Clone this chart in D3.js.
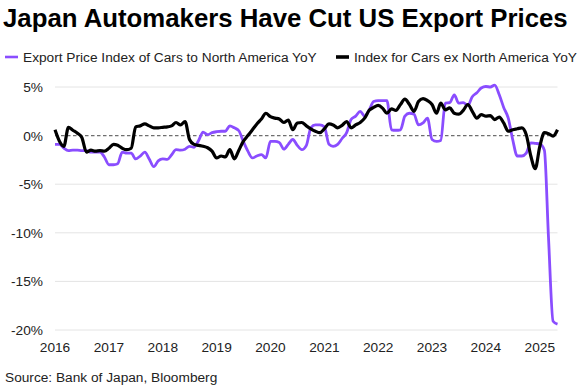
<!DOCTYPE html>
<html>
<head>
<meta charset="utf-8">
<script src="https://cdn.jsdelivr.net/npm/d3@7"></script>
<style>
  body { margin: 0; background: #fff; }
  svg { font-family: "Liberation Sans", Arial, sans-serif; }
</style>
</head>
<body>
<div id="chart"></div>
<script>
// Monthly data, Jan 2016 .. May 2025 (YoY %)
const startYear = 2016;
const northAmerica = [
  -0.9, -0.9, -1.3, -1.55, -1.5, -1.5, -1.55, -1.55, -1.7, -1.7, -1.7, -2.2,
  -3.0, -3.0, -2.9, -1.7, -1.8, -1.8, -2.4, -2.1, -1.7, -2.4, -3.2, -2.6,
  -2.4, -2.45, -2.0, -1.45, -1.5, -1.4, -1.1, -1.2, -0.5, 0.35, 0.1, 0.3,
  0.4, 0.45, 0.45, 1.0, 0.8, 0.5, -0.6, -1.6, -2.3, -2.1, -1.95, -2.3,
  -0.6, -0.6, -0.7, -1.4, -0.9, -0.4, -1.0, -1.45, -1.0, 0.8, 1.1, 1.1,
  0.9, -0.9, -1.1, -0.9, -0.3, 0.3, 1.65, 2.0, 2.5, 2.0, 2.65, 3.5,
  3.6, 3.6, 3.6, 0.6, 0.55, 0.6, 2.0, 2.3, 2.2, 1.1, 1.3, 1.8,
  -0.4, -0.6, -0.5, 3.35, 3.4, 4.2, 3.35, 3.4, 3.1, 4.0, 4.4, 4.9,
  5.05, 5.0, 5.2, 4.2, 2.9, 1.8, -0.4, -2.1, -2.1, -1.8, -0.75, -0.8,
  -0.85, -1.5, -10.5, -19.1, -19.4
];
const exNorthAmerica = [
  0.6, -0.6, -1.1, 0.85, 0.55, 0.25, -0.2, -1.7, -1.5, -1.6, -1.55, -1.6,
  -1.3, -0.9, -1.0, -1.3, -1.45, -1.3, 0.9, 1.0, 1.2, 1.0, 0.8, 0.8,
  0.85, 0.9, 1.0, 1.35, 1.1, 1.45, -0.4, -0.9, -1.0, -1.1, -1.25, -1.6,
  -2.3, -2.1, -2.2, -1.45, -2.4, -1.5, -0.6, 0.0, 0.6, 1.2, 1.7, 2.3,
  1.95, 1.8, 1.7, 1.35, 1.6, 0.6, 1.3, 1.35, 1.0, 0.7, 0.45, 0.3,
  0.7, 1.2, 1.1, 0.8, 1.05, 1.45, 0.8, 1.1, 1.35, 1.8, 2.6, 2.9,
  3.1, 2.8, 2.3, 2.75, 2.6, 3.2, 3.75, 3.2, 2.5, 3.5, 3.8, 3.6,
  3.2, 2.3, 3.35, 2.65, 2.85, 2.3, 2.2, 2.6, 3.2, 2.5, 1.8, 2.15,
  2.0, 2.05, 1.65, 1.9, 1.3, 0.45, 0.6, 0.7, 0.8, 0.1, -2.1, -3.4,
  -1.1, 0.3, 0.2, -0.05, 0.6
];
const seriesNames = ["Export Price Index of Cars to North America YoY", "Index for Cars ex North America YoY"];
const seriesColors = ["#8a4dff", "#000000"];
const yTicks = [5, 0, -5, -10, -15, -20];
const xYears = [2016, 2017, 2018, 2019, 2020, 2021, 2022, 2023, 2024, 2025];

const W = 577, H = 389;
const plotLeft = 55, plotRight = 557.5, plotTop = 87, plotBottom = 330;

const svg = d3.select("#chart").append("svg")
  .attr("width", W)
  .attr("height", H);

const dates = northAmerica.map((_, i) => new Date(startYear, i, 1));

const x = d3.scaleTime()
  .domain([dates[0], dates[dates.length - 1]])
  .range([plotLeft, plotRight]);

const y = d3.scaleLinear()
  .domain([-20, 5])
  .range([plotBottom, plotTop]);

// Title, stretched to the width used in the original
const title = svg.append("text")
  .attr("x", 3)
  .attr("y", 27)
  .attr("font-size", 25.5)
  .attr("font-weight", "bold")
  .attr("fill", "#000")
  .text("Japan Automakers Have Cut US Export Prices");
const tw = title.node().getComputedTextLength();
if (tw > 0) title.attr("font-size", 25.5 * 565 / tw);

// Legend
const legend = [
  { name: seriesNames[0], color: seriesColors[0], x: 5, w: 2.6 },
  { name: seriesNames[1], color: seriesColors[1], x: 336, w: 3.6 }
];
legend.forEach(l => {
  svg.append("line")
    .attr("x1", l.x).attr("x2", l.x + 13)
    .attr("y1", 57).attr("y2", 57)
    .attr("stroke", l.color)
    .attr("stroke-width", l.w);
  svg.append("text")
    .attr("x", l.x + 18)
    .attr("y", 62)
    .attr("font-size", 13.7)
    .attr("fill", "#222")
    .text(l.name);
});

// Gridlines
svg.append("g")
  .selectAll("line")
  .data(yTicks.filter(d => d !== 0))
  .join("line")
  .attr("x1", plotLeft).attr("x2", plotRight)
  .attr("y1", d => y(d)).attr("y2", d => y(d))
  .attr("stroke", "#e4e4e4")
  .attr("stroke-width", 1);

// Zero line
svg.append("line")
  .attr("x1", plotLeft).attr("x2", plotRight)
  .attr("y1", y(0)).attr("y2", y(0))
  .attr("stroke", "#6f6f6f")
  .attr("stroke-width", 1.2)
  .attr("stroke-dasharray", "3.5,2.5");

// Y axis labels
svg.append("g")
  .selectAll("text")
  .data(yTicks)
  .join("text")
  .attr("x", 43)
  .attr("y", d => y(d) + 5)
  .attr("text-anchor", "end")
  .attr("font-size", 13.7)
  .attr("fill", "#222")
  .text(d => d + "%");

// X axis labels
svg.append("g")
  .selectAll("text")
  .data(xYears)
  .join("text")
  .attr("x", d => x(new Date(d, 0, 1)))
  .attr("y", 352)
  .attr("text-anchor", "middle")
  .attr("font-size", 13.7)
  .attr("fill", "#222")
  .text(d => d);

// Lines
const line = d3.line()
  .x((d, i) => x(dates[i]))
  .y(d => y(d))
  .curve(d3.curveMonotoneX);

svg.append("path")
  .datum(northAmerica)
  .attr("fill", "none")
  .attr("stroke", seriesColors[0])
  .attr("stroke-width", 2.8)
  .attr("stroke-linejoin", "round")
  .attr("d", line);

svg.append("path")
  .datum(exNorthAmerica)
  .attr("fill", "none")
  .attr("stroke", seriesColors[1])
  .attr("stroke-width", 3.2)
  .attr("stroke-linejoin", "round")
  .attr("d", line);

// Source
svg.append("text")
  .attr("x", 5)
  .attr("y", 382)
  .attr("font-size", 13.7)
  .attr("fill", "#222")
  .text("Source: Bank of Japan, Bloomberg");
</script>
</body>
</html>
